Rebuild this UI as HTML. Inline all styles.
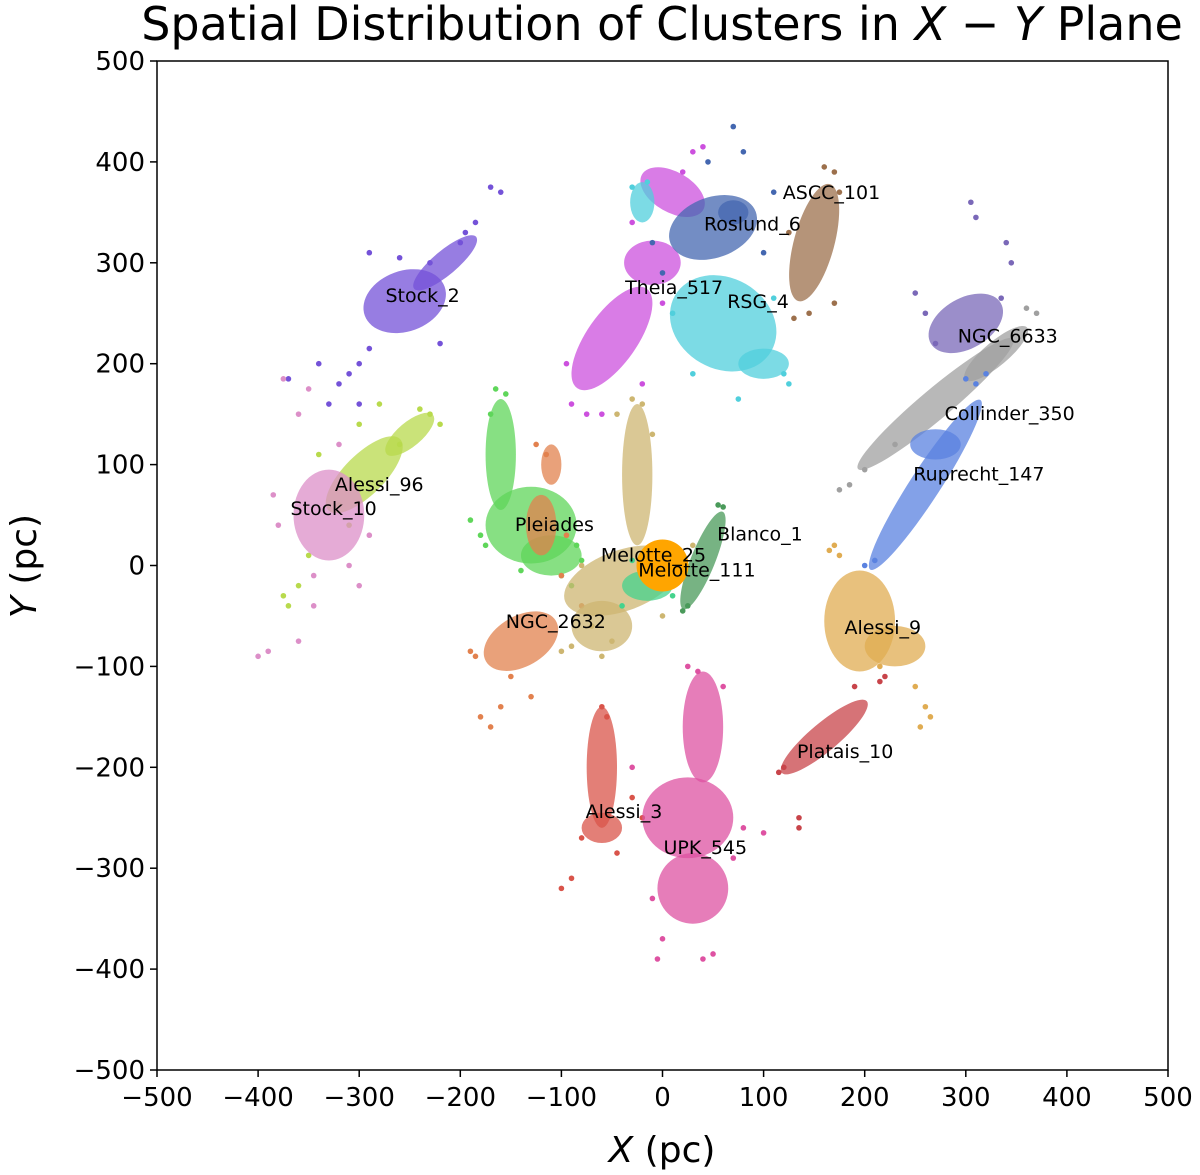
<!DOCTYPE html>
<html><head><meta charset="utf-8"><style>
body{margin:0;background:#fff;}
svg{display:block;font-family:"Liberation Sans","DejaVu Sans",sans-serif;}
</style></head><body>
<svg id="chart" width="1200" height="1175" viewBox="0 0 1200 1175" xmlns="http://www.w3.org/2000/svg">
<text x="662" y="40" font-size="46" text-anchor="middle" font-family="DejaVu Sans, sans-serif">Spatial Distribution of Clusters in <tspan font-style="italic">X</tspan> − <tspan font-style="italic">Y</tspan> Plane</text>
<g id="marks"></g>
<g id="labels"></g>
<rect x="157" y="61" width="1011" height="1009" fill="none" stroke="#000" stroke-width="1.5"/>
<g id="axes"></g>
<text x="662" y="1162" font-size="36" text-anchor="middle" font-family="DejaVu Sans, sans-serif"><tspan font-style="italic">X</tspan> (pc)</text>
<text transform="translate(36,566) rotate(-90)" font-size="36" text-anchor="middle" font-family="DejaVu Sans, sans-serif"><tspan font-style="italic">Y</tspan> (pc)</text>
</svg>
<script>
const xTicks=[-500,-400,-300,-200,-100,0,100,200,300,400,500];
const yTicks=[-500,-400,-300,-200,-100,0,100,200,300,400,500];
const clusterNames=["Stock_2","Alessi_96","Stock_10","Pleiades","NGC_2632","Melotte_25","Melotte_111","Blanco_1","Theia_517","Roslund_6","RSG_4","ASCC_101","NGC_6633","Collinder_350","Ruprecht_147","Alessi_9","Platais_10","Alessi_3","UPK_545"];
const clusterColors=["#7452d8","#b8da4c","#dc8fc8","#5fd65a","#e2814e","#cdb671","#44d38d","#4a9a5a","#cc50de","#4467b0","#50cfdc","#9c704c","#7a68b8","#a0a0a0","#5a82e0","#e0ac52","#c8444a","#d9544a","#de52a2"];
const clusterBlobs=[
[[-255,262,42,30,20],[-215,300,40,12,40]],
[[-295,90,50,20,45],[-250,130,30,12,40]],
[[-330,50,35,45,0]],
[[-160,110,15,55,0],[-130,40,45,38,0],[-110,10,30,20,0]],
[[-140,-75,40,25,30],[-120,40,15,30,0],[-110,100,10,20,0]],
[[-40,-15,60,30,20],[-25,90,15,70,0],[-60,-60,30,25,0]],
[[-15,-20,25,15,0]],
[[40,5,52,12,68]],
[[-10,300,28,22,0],[-50,225,60,25,55],[10,370,20,35,60]],
[[50,335,45,30,20],[70,350,15,12,0]],
[[60,240,55,45,-30],[-20,360,12,20,0],[100,200,25,15,0]],
[[150,320,20,60,-15]],
[[300,240,40,25,30]],
[[270,160,100,15,40],[330,210,40,12,40]],
[[260,80,100,15,57],[270,120,25,15,0]],
[[195,-55,35,50,0],[230,-80,30,20,0]],
[[160,-170,55,14,40]],
[[-60,-260,20,15,0],[-60,-200,15,60,0]],
[[30,-320,35,35,0],[25,-250,45,40,0],[40,-160,20,55,0]]
];
const clusterPoints=[
[[-170,375],[-160,370],[-185,340],[-195,330],[-200,320],[-330,160],[-320,180],[-310,190],[-300,200],[-290,215],[-340,200],[-370,185],[-300,160],[-230,300],[-220,220],[-290,310],[-260,305]],
[[-370,-40],[-360,-20],[-350,10],[-375,-30],[-230,150],[-240,155],[-220,140],[-260,120],[-320,60],[-310,40],[-340,110],[-280,160],[-300,140]],
[[-400,-90],[-390,-85],[-360,-75],[-345,-40],[-380,40],[-385,70],[-360,150],[-350,175],[-375,185],[-300,-20],[-310,0],[-290,30],[-345,-10],[-320,120]],
[[-165,175],[-155,170],[-180,30],[-175,20],[-100,-10],[-90,-20],[-85,20],[-140,-5],[-190,45],[-170,150],[-80,5]],
[[-180,-150],[-170,-160],[-160,-140],[-185,-90],[-190,-85],[-80,-40],[-100,-10],[-95,30],[-115,110],[-125,120],[-150,-110],[-130,-130]],
[[-30,165],[-20,160],[-45,150],[-10,130],[-100,-85],[-90,-80],[-70,-60],[-50,-75],[-60,-90],[0,-50],[-80,0],[30,20]],
[[-40,-40],[10,-30],[-30,5]],
[[60,58],[55,60],[20,-45],[25,-40]],
[[40,415],[30,410],[20,390],[-90,160],[-75,150],[-60,150],[-95,200],[-30,340],[-20,180],[0,260]],
[[70,435],[80,410],[110,370],[0,290],[-10,320],[100,310],[45,400]],
[[-30,375],[-15,380],[120,190],[125,180],[75,165],[30,190],[110,265],[10,250]],
[[160,395],[170,390],[175,370],[125,330],[130,245],[145,250],[170,260]],
[[305,360],[310,345],[340,320],[345,300],[260,250],[270,220],[335,265],[250,270]],
[[175,75],[185,80],[200,95],[360,255],[370,250],[230,120]],
[[200,0],[210,5],[320,190],[310,180],[300,185]],
[[255,-160],[260,-140],[250,-120],[165,15],[170,20],[175,10],[265,-150],[215,-100]],
[[135,-260],[135,-250],[120,-200],[115,-205],[215,-115],[220,-110],[190,-120]],
[[-100,-320],[-90,-310],[-20,-250],[-30,-230],[-60,-140],[-55,-150],[-80,-270],[-45,-285]],
[[-5,-390],[40,-390],[50,-385],[70,-290],[80,-260],[100,-265],[25,-100],[35,-105],[60,-120],[-30,-200],[-10,-330],[0,-370]]
];
const labelPositions=[[-274,261],[-324,74],[-368,50],[-146,34],[-155,-62],[-61,4],[-24,-11],[54,25],[-37,269],[41,332],[64,255],[119,363],[292,221],[279,144],[248,84],[180,-68],[133,-191],[-76,-250],[1,-286]];
const sun=[0,0];

const NS="http://www.w3.org/2000/svg";
const X0=157,X1=1168,Y0=1070,Y1=61;
const sx=v=>X0+(v+500)/1000*(X1-X0);
const sy=v=>Y0-(v+500)/1000*(Y0-Y1);
const kx=(X1-X0)/1000, ky=(Y0-Y1)/1000;
function mk(t,a){const e=document.createElementNS(NS,t);for(const k in a)e.setAttribute(k,a[k]);return e;}
const marks=document.getElementById('marks'),labels=document.getElementById('labels'),axes=document.getElementById('axes');
clusterNames.forEach((n,i)=>{
  const g=mk('g',{});
  
  
  clusterBlobs[i].forEach(b=>{
    const e=mk('ellipse',{cx:sx(b[0]),cy:sy(b[1]),rx:b[2]*kx,ry:b[3]*ky,fill:clusterColors[i],'fill-opacity':0.75,transform:`rotate(${-b[4]} ${sx(b[0])} ${sy(b[1])})`});
    
    
    g.appendChild(e);
  });
  clusterPoints[i].forEach(p=>{
    const c=mk('circle',{cx:sx(p[0]),cy:sy(p[1]),r:2.8,fill:clusterColors[i]});
    
    
    g.appendChild(c);
  });
  marks.appendChild(g);
  const t=mk('text',{x:sx(labelPositions[i][0]),y:sy(labelPositions[i][1]),'font-size':19,'font-family':'DejaVu Sans, sans-serif'});
  
  
  t.textContent=n;
  labels.appendChild(t);
});
const s=mk('circle',{cx:sx(sun[0]),cy:sy(sun[1]),r:26,fill:'#ffa500'});


marks.appendChild(s);
xTicks.forEach(v=>{
  const l=mk('line',{x1:sx(v),x2:sx(v),y1:Y0,y2:Y0+7,stroke:'#000','stroke-width':1.5});
  
  
  axes.appendChild(l);
  const t=mk('text',{x:sx(v),y:Y0+36,'font-size':26,'text-anchor':'middle','font-family':'DejaVu Sans, sans-serif'});
  
  
  t.textContent=(v<0?'−':'')+Math.abs(v);
  axes.appendChild(t);
});
yTicks.forEach(v=>{
  const l=mk('line',{x1:X0-7,x2:X0,y1:sy(v),y2:sy(v),stroke:'#000','stroke-width':1.5});
  
  
  axes.appendChild(l);
  const t=mk('text',{x:X0-12,y:sy(v)+9,'font-size':26,'text-anchor':'end','font-family':'DejaVu Sans, sans-serif'});
  
  
  t.textContent=(v<0?'−':'')+Math.abs(v);
  axes.appendChild(t);
});
</script>
</body></html>
